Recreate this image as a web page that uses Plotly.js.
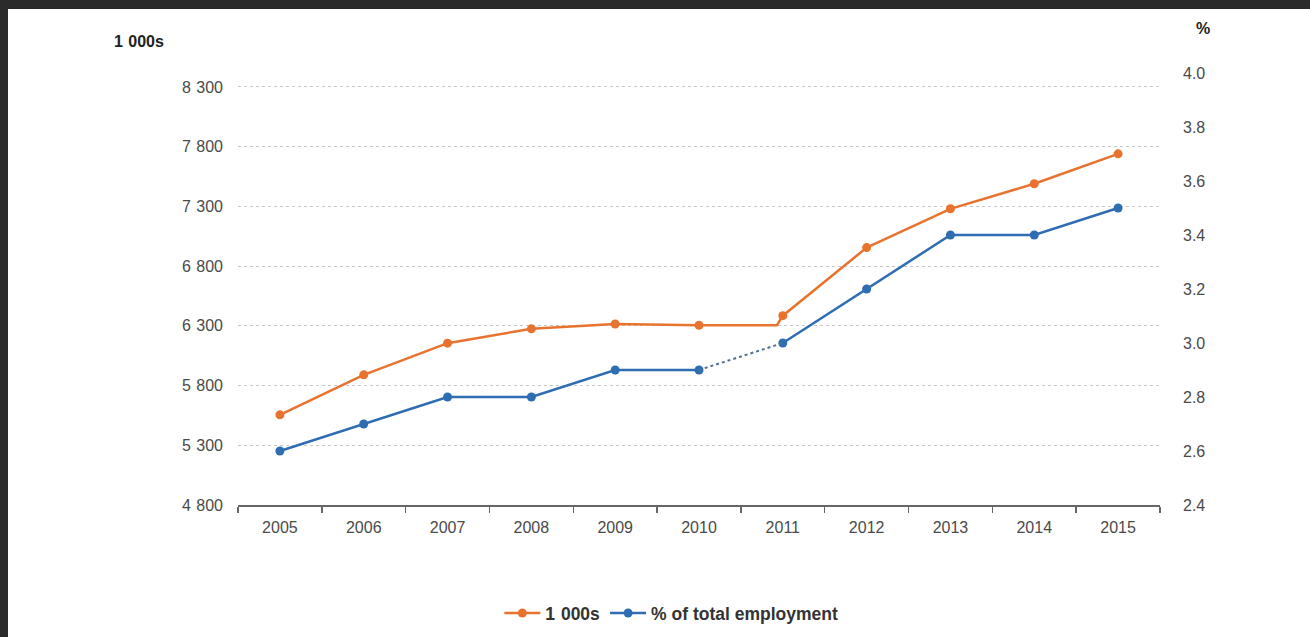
<!DOCTYPE html>
<html>
<head>
<meta charset="utf-8">
<script src="https://cdn.plot.ly/plotly-3.0.1.min.js"></script>
<style>
  html, body { margin: 0; padding: 0; background: #2b2b2b; width: 1310px; height: 637px; overflow: hidden; }
  #chart { position: absolute; left: 8px; top: 9px; width: 1302px; height: 628px; background: #ffffff; }
</style>
</head>
<body>
<div id="chart"></div>
<script>
// ---- data ----
const years = [2005, 2006, 2007, 2008, 2009, 2010, 2011, 2012, 2013, 2014, 2015];
const thousands = [5555, 5890, 6155, 6275, 6315, 6305, 6385, 6955, 7280, 7490, 7740];
const pctEmployment = [2.6, 2.7, 2.8, 2.8, 2.9, 2.9, 3.0, 3.2, 3.4, 3.4, 3.5];
const breakYear = 2011;                  // break in series
const thousandsOldSeriesAtBreak = 6305;  // old-methodology level at the break
const leftTicks = [4800, 5300, 5800, 6300, 6800, 7300, 7800, 8300];
const rightTicks = [2.4, 2.6, 2.8, 3.0, 3.2, 3.4, 3.6, 3.8, 4.0];
const seriesNames = ['1\u2004000s', '% of total employment'];
const leftTitle = '1\u2004000s';
const rightTitle = '%';

// ---- helpers ----
const fmtThousands = v => String(v).replace(/\B(?=(\d{3})+(?!\d))/g, '\u2004');

// ---- build traces ----
const orange = '#E8732F';
const blue = '#2F6DB3';
const bi = years.indexOf(breakYear);

// orange: insert the (invisible-marker) break point just before the break year
const ox = [], oy = [], ocol = [];
years.forEach((yr, i) => {
  if (i === bi) { ox.push(yr - 0.07); oy.push(thousandsOldSeriesAtBreak); ocol.push('rgba(0,0,0,0)'); }
  ox.push(yr); oy.push(thousands[i]); ocol.push(orange);
});

// blue: gap between the year before the break and the break year
const bx = [], by = [];
years.forEach((yr, i) => {
  if (i === bi) { bx.push(yr - 0.5); by.push(null); }
  bx.push(yr); by.push(pctEmployment[i]);
});

const traces = [
  {
    x: ox, y: oy, name: seriesNames[0], type: 'scatter', mode: 'lines+markers',
    line: { color: orange, width: 2.5 }, marker: { color: ocol, size: 9 },
    yaxis: 'y', hoverinfo: 'skip'
  },
  {
    x: bx, y: by, name: seriesNames[1], type: 'scatter', mode: 'lines+markers',
    connectgaps: false,
    line: { color: blue, width: 2.5 }, marker: { color: blue, size: 9 },
    yaxis: 'y2', hoverinfo: 'skip'
  },
  {
    x: [years[bi - 1], years[bi]], y: [pctEmployment[bi - 1], pctEmployment[bi]],
    type: 'scatter', mode: 'lines', showlegend: false,
    line: { color: '#53708f', width: 2, dash: 'dot' }, yaxis: 'y2', hoverinfo: 'skip'
  }
];

const boundaries = years.map(y => y - 0.5).concat([years[years.length - 1] + 0.5]);
const tickFont = { family: 'Liberation Sans, Arial, sans-serif', size: 16, color: '#4a4a4a' };

const layout = {
  width: 1302, height: 628,
  margin: { l: 230, r: 150, t: 64, b: 132 },
  paper_bgcolor: '#ffffff', plot_bgcolor: '#ffffff',
  showlegend: true,
  legend: {
    orientation: 'h', xref: 'paper', x: 0.47, xanchor: 'center',
    yref: 'container', y: 0.038, yanchor: 'middle',
    font: { family: 'Liberation Sans, Arial, sans-serif', size: 17.5, color: '#333', weight: 'bold' },
    itemwidth: 36
  },
  xaxis: {
    range: [years[0] - 0.5, years[years.length - 1] + 0.5],
    tickmode: 'array', tickvals: years, ticktext: years.map(String),
    ticks: '', showgrid: false, zeroline: false, automargin: false,
    showline: true, linecolor: '#666', linewidth: 1.5,
    tickfont: tickFont, ticklabelstandoff: 7,
    minor: { tickmode: 'array', tickvals: boundaries, ticks: 'outside', ticklen: 6, tickwidth: 1.5, tickcolor: '#666', showgrid: false }
  },
  yaxis: {
    range: [4800, 8417], automargin: false,
    tickmode: 'array', tickvals: leftTicks, ticktext: leftTicks.map(fmtThousands),
    showgrid: true, gridcolor: '#c9c9c9', griddash: 'dot', gridwidth: 1,
    zeroline: false, showline: false, ticks: '',
    tickfont: tickFont, ticklabelstandoff: 14
  },
  yaxis2: {
    overlaying: 'y', side: 'right', automargin: false,
    range: [2.4, 4.0],
    tickmode: 'array', tickvals: rightTicks, tickformat: '.1f',
    showgrid: false, zeroline: false, showline: false, ticks: '',
    tickfont: tickFont, ticklabelstandoff: 22
  },
  annotations: [
    { text: leftTitle, xref: 'paper', yref: 'paper', x: -0.1074, y: 1.074, xanchor: 'center', yanchor: 'middle',
      showarrow: false, font: { family: 'Liberation Sans, Arial, sans-serif', size: 16, color: '#222', weight: 'bold' } },
    { text: rightTitle, xref: 'paper', yref: 'paper', x: 1.0466, y: 1.102, xanchor: 'center', yanchor: 'middle',
      showarrow: false, font: { family: 'Liberation Sans, Arial, sans-serif', size: 16, color: '#222', weight: 'bold' } }
  ]
};

Plotly.newPlot('chart', traces, layout, { staticPlot: true, displayModeBar: false });
</script>
</body>
</html>
